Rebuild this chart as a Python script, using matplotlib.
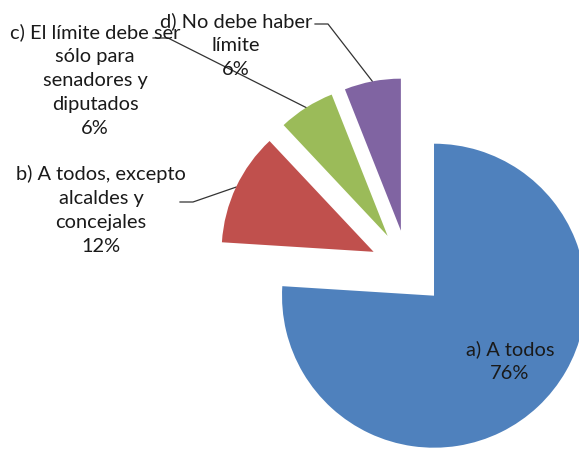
import numpy as np
import matplotlib.pyplot as plt

labels = ['a) A todos', 'b) A todos, excepto\nalcaldes y\nconcejales',
          'c) El límite debe ser\nsólo para\nsenadores y\ndiputados',
          'd) No debe haber\nlímite']
pcts = [76, 12, 6, 6]
colors = ['#4F81BD', '#C0504D', '#9BBB59', '#8064A2']

W, H = 579, 449
fig = plt.figure(figsize=(W / 100, H / 100), dpi=100)
ax = fig.add_axes([0, 0, 1, 1])

# pie drawn in pixel-like data units
cx, cy, r = 408, H - 268, 152
wedges, _ = ax.pie(pcts, colors=colors, startangle=90, counterclock=False,
                   center=(cx, cy), radius=r, explode=[38] * 4,
                   wedgeprops=dict(linewidth=0))
ax.set_xlim(0, W)
ax.set_ylim(0, H)
ax.set_aspect('equal')
ax.axis('off')

txt = dict(fontsize=14.4, family='Lato', color='#1a1a1a', ha='center', va='center',
           linespacing=1.5)

# label block position and elbow of leader line (pixels from top)
lab_pos = [(510, 361), (101, 210), (95, 80), (236, 45)]
elbows = [None, [(180, 202), (193, 202)], [(153, 38), (168, 38)], [(315, 24), (328, 24)]]

for w, lab, p, pos, elb in zip(wedges, labels, pcts, lab_pos, elbows):
    ax.text(pos[0], H - pos[1], f'{lab}\n{p}%', **txt)
    if elb is None:
        continue
    ang = np.deg2rad((w.theta1 + w.theta2) / 2)
    ex = w.center[0] + w.r * np.cos(ang)
    ey = w.center[1] + w.r * np.sin(ang)
    xs = [e[0] for e in elb] + [ex]
    ys = [H - e[1] for e in elb] + [ey]
    ax.plot(xs, ys, color='#333333', lw=0.9, zorder=0)

fig.savefig('out.png', dpi=100)
